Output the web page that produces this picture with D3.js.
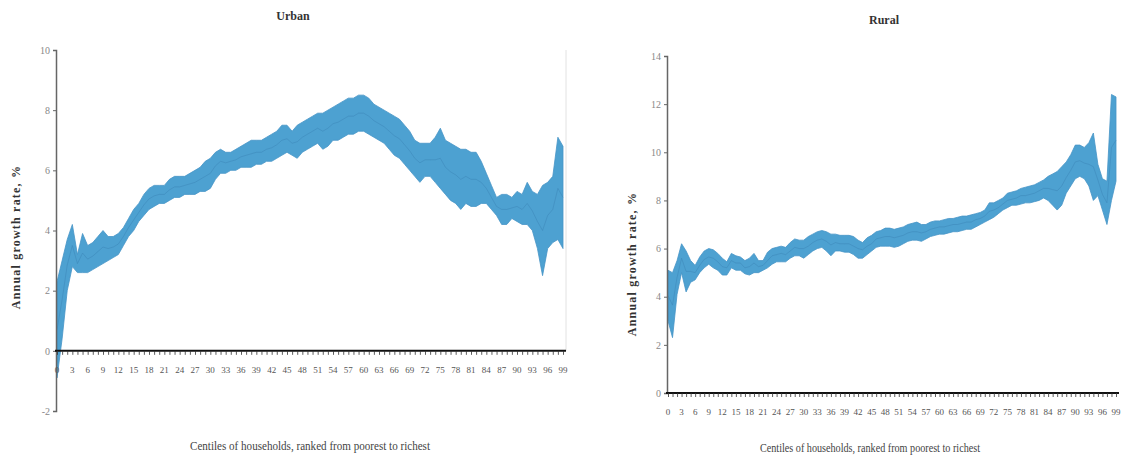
<!DOCTYPE html>
<html><head><meta charset="utf-8">
<script src="https://cdn.jsdelivr.net/npm/d3@7"></script>
<style>body{margin:0;background:#fff}svg{display:block}svg text{font-family:"Liberation Serif","DejaVu Serif",serif}</style>
</head><body>
<svg id="c" width="1139" height="457"></svg>
<script>
const centiles = d3.range(0, 100);
const tickLabels = d3.range(0, 100, 3);

const urbanLo = [-0.9,0.4,2.0,2.8,2.6,2.6,2.6,2.7,2.8,2.9,3.0,3.1,3.2,3.5,3.8,4.0,4.3,4.5,4.7,4.8,4.9,4.9,5.0,5.1,5.1,5.2,5.2,5.2,5.3,5.3,5.4,5.7,5.9,5.9,6.0,6.0,6.1,6.1,6.1,6.2,6.2,6.3,6.3,6.4,6.5,6.6,6.5,6.4,6.6,6.7,6.8,6.9,6.7,6.8,7.0,7.0,7.1,7.2,7.2,7.3,7.3,7.2,7.1,7.0,6.9,6.7,6.5,6.4,6.2,6.0,5.8,5.6,5.8,5.8,5.6,5.4,5.2,5.0,4.9,4.7,4.9,4.8,4.8,4.9,4.9,4.7,4.5,4.2,4.2,4.4,4.3,4.2,4.2,4.0,3.4,2.5,3.4,3.6,3.7,3.4];
const urbanHi = [2.3,3.0,3.7,4.2,3.2,3.9,3.5,3.6,3.8,4.0,3.8,3.8,3.9,4.1,4.4,4.7,4.9,5.2,5.4,5.5,5.5,5.5,5.7,5.8,5.8,5.8,5.9,6.0,6.1,6.3,6.4,6.6,6.7,6.6,6.6,6.7,6.8,6.9,7.0,7.0,7.0,7.1,7.2,7.3,7.5,7.5,7.3,7.5,7.6,7.7,7.8,7.9,7.9,8.0,8.1,8.2,8.3,8.4,8.4,8.5,8.5,8.4,8.2,8.1,8.0,7.9,7.8,7.7,7.5,7.3,7.0,6.9,6.9,6.9,7.1,7.4,7.0,6.9,6.8,6.7,6.7,6.6,6.6,6.3,5.9,5.5,5.1,5.2,5.2,5.1,5.3,5.2,5.6,5.3,5.2,5.5,5.6,5.8,7.1,6.8];
const urbanMid = [0.7,1.7,2.85,3.5,2.9,3.25,3.05,3.15,3.3,3.45,3.4,3.45,3.55,3.8,4.1,4.35,4.6,4.85,5.05,5.15,5.2,5.2,5.35,5.45,5.45,5.5,5.55,5.6,5.7,5.8,5.9,6.15,6.3,6.25,6.3,6.35,6.45,6.5,6.55,6.6,6.6,6.7,6.75,6.85,7.0,7.05,6.9,6.95,7.1,7.2,7.3,7.4,7.3,7.4,7.55,7.6,7.7,7.8,7.8,7.9,7.9,7.8,7.65,7.55,7.45,7.3,7.15,7.05,6.85,6.65,6.4,6.25,6.35,6.35,6.35,6.4,6.1,5.95,5.85,5.7,5.8,5.7,5.7,5.6,5.4,5.1,4.8,4.7,4.7,4.75,4.8,4.7,4.9,4.65,4.3,4.0,4.5,4.7,5.4,5.1];

const ruralLo = [3.0,2.3,4.1,5.0,4.2,4.6,4.7,5.0,5.2,5.35,5.2,5.1,4.9,4.9,5.2,5.1,5.1,4.95,4.9,5.0,5.0,5.1,5.2,5.35,5.45,5.45,5.45,5.6,5.7,5.7,5.6,5.75,5.9,6.0,6.05,5.9,5.7,5.9,5.9,5.85,5.85,5.75,5.6,5.6,5.75,5.9,6.05,6.1,6.1,6.1,6.05,6.1,6.2,6.3,6.35,6.35,6.3,6.4,6.5,6.55,6.6,6.6,6.65,6.7,6.7,6.75,6.8,6.8,6.9,7.0,7.1,7.2,7.3,7.45,7.6,7.7,7.8,7.8,7.85,7.9,7.9,7.95,8.0,8.1,8.0,7.8,7.6,7.8,8.3,8.6,8.9,9.0,8.9,8.6,8.0,8.2,7.6,7.0,8.0,8.8];
const ruralHi = [5.1,5.0,5.5,6.2,5.9,5.5,5.3,5.65,5.9,6.0,5.95,5.8,5.6,5.45,5.8,5.7,5.65,5.5,5.6,5.8,5.5,5.5,5.85,6.0,6.05,6.1,6.05,6.25,6.4,6.35,6.35,6.5,6.6,6.7,6.75,6.7,6.6,6.6,6.55,6.55,6.55,6.5,6.35,6.25,6.45,6.55,6.7,6.75,6.85,6.85,6.8,6.85,6.9,7.0,7.05,7.1,7.0,7.0,7.1,7.15,7.15,7.2,7.25,7.25,7.3,7.35,7.35,7.4,7.45,7.5,7.6,7.9,7.9,8.0,8.1,8.3,8.35,8.4,8.5,8.55,8.6,8.65,8.75,8.85,9.0,9.1,9.2,9.4,9.6,9.9,10.3,10.3,10.2,10.4,10.8,9.5,8.9,8.8,12.4,12.3];
const ruralMid = [4.05,3.65,4.8,5.6,5.05,5.05,5.0,5.3,5.55,5.65,5.6,5.45,5.25,5.2,5.5,5.4,5.4,5.2,5.25,5.4,5.25,5.3,5.5,5.7,5.75,5.8,5.75,5.9,6.05,6.0,6.0,6.1,6.25,6.35,6.4,6.3,6.15,6.25,6.2,6.2,6.2,6.1,6.0,5.95,6.1,6.2,6.4,6.45,6.5,6.5,6.45,6.5,6.55,6.65,6.7,6.7,6.65,6.7,6.8,6.85,6.9,6.9,6.95,7.0,7.0,7.05,7.1,7.1,7.2,7.25,7.35,7.55,7.6,7.7,7.85,8.0,8.05,8.1,8.2,8.2,8.25,8.3,8.4,8.5,8.5,8.45,8.4,8.6,8.95,9.25,9.6,9.65,9.55,9.5,9.4,8.85,8.25,7.9,10.2,10.5];

const urbanYTicks = [-2,0,2,4,6,8,10];
const ruralYTicks = [0,2,4,6,8,10,12,14];

const svg = d3.select("#c");

function panel(cfg) {
  const g = svg.append("g");
  const x = d3.scaleLinear().domain([0, 99]).range([cfg.x0, cfg.x1]);
  const y = d3.scaleLinear().domain(cfg.yDomain).range(cfg.yRange);

  if (cfg.border) {
    g.append("line").attr("x1", cfg.x1 + 3).attr("x2", cfg.x1 + 3)
      .attr("y1", y(cfg.yDomain[1])).attr("y2", y(0))
      .attr("stroke", "#e2e2e2").attr("stroke-width", 1);
  }

  const area = d3.area().x((d, i) => x(centiles[i])).y0((d, i) => y(cfg.lo[i])).y1((d, i) => y(cfg.hi[i]));
  g.append("path").datum(cfg.lo).attr("d", area)
    .attr("fill", "#4da1d1").attr("stroke", "#4694c6").attr("stroke-width", 0.8);
  const line = d3.line().x((d, i) => x(centiles[i])).y(d => y(d));
  g.append("path").datum(cfg.mid).attr("d", line)
    .attr("fill", "none").attr("stroke", "#3c86b8").attr("stroke-width", 1).attr("opacity", 0.5);

  const ya = g.append("g").attr("transform", `translate(${cfg.x0 - 1},0)`)
    .call(d3.axisLeft(y).tickValues(cfg.yTicks).tickSize(3).tickFormat(d => String(d)));
  ya.select(".domain").attr("stroke", "#666").attr("stroke-width", 1.5);
  ya.selectAll(".tick line").attr("stroke", "#666");
  ya.selectAll(".tick text").style("font-size", "10px").attr("fill", "#888").attr("x", -6);

  const xa = g.append("g").attr("transform", `translate(0,${y(0)})`)
    .call(d3.axisBottom(x).tickValues(centiles).tickSize(4).tickSizeOuter(0).tickFormat(""));
  xa.select(".domain").attr("stroke", "#111").attr("stroke-width", 2)
    .attr("d", `M${cfg.x0 - 2},0H${cfg.x1 + 3}`);
  xa.selectAll(".tick line").attr("stroke", "#333").attr("stroke-width", 0.8);
  g.append("g").selectAll("text").data(tickLabels).join("text")
    .attr("x", d => x(d)).attr("y", y(0) + cfg.labelDy)
    .attr("text-anchor", "middle").style("font-size", "9px")
    .attr("fill", "#555").text(d => d);

  g.append("text").attr("x", cfg.titleX).attr("y", cfg.titleY).attr("text-anchor", "middle")
    .style("font-weight", "bold").style("font-size", "12px").attr("fill", "#333")
    .text(cfg.title);
  g.append("text").attr("transform", `translate(${cfg.yTitleX},${cfg.yTitleY}) rotate(-90)`)
    .attr("text-anchor", "middle").style("font-weight", "bold")
    .style("font-size", "12px").attr("letter-spacing", 1.2).attr("fill", "#333")
    .text("Annual growth rate, %");
  g.append("text").attr("x", cfg.xTitleX).attr("y", cfg.xTitleY).attr("text-anchor", "middle")
    .style("font-size", "12px").attr("fill", "#444")
    .attr("textLength", cfg.xTitleLen).attr("lengthAdjust", "spacingAndGlyphs")
    .text("Centiles of households, ranked from poorest to richest");
}

panel({x0: 57, x1: 563, yDomain: [-2, 10], yRange: [411, 50], yTicks: urbanYTicks,
  lo: urbanLo, hi: urbanHi, mid: urbanMid, title: "Urban", titleX: 293, titleY: 20,
  yTitleX: 20, yTitleY: 237, xTitleX: 310, xTitleY: 450, xTitleLen: 240, labelDy: 22, border: true});
panel({x0: 668, x1: 1116, yDomain: [0, 14], yRange: [393, 56], yTicks: ruralYTicks,
  lo: ruralLo, hi: ruralHi, mid: ruralMid, title: "Rural", titleX: 884, titleY: 24,
  yTitleX: 636, yTitleY: 264, xTitleX: 870, xTitleY: 452, xTitleLen: 220, labelDy: 22, border: false});
</script>
</body></html>
